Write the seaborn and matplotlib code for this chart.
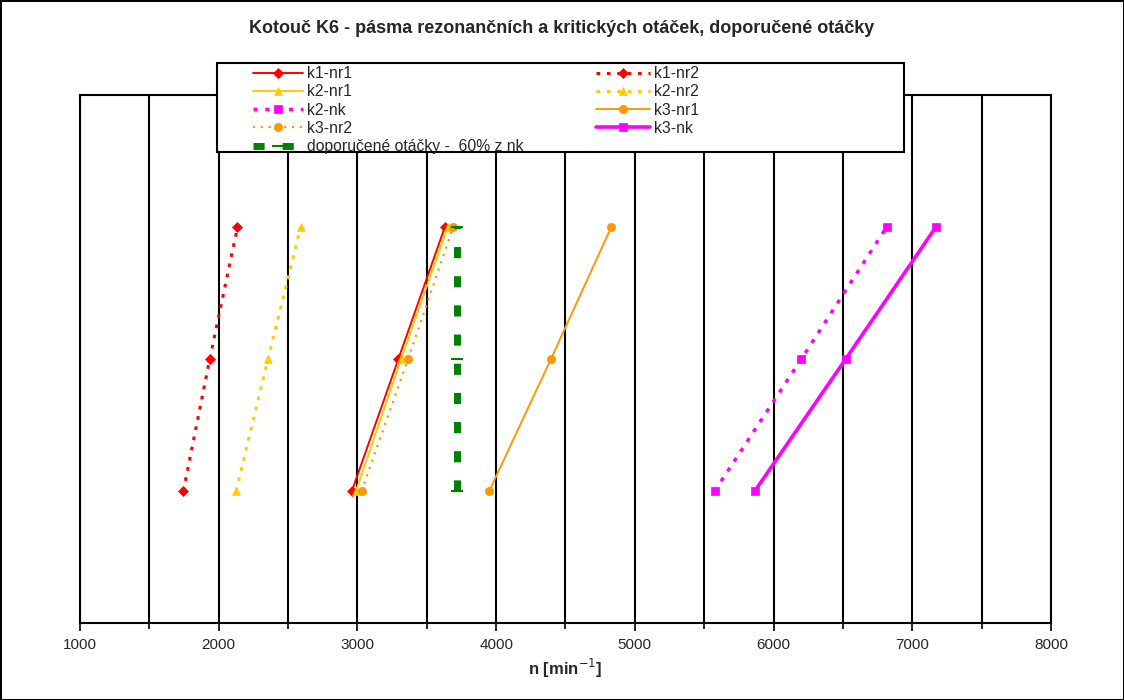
import matplotlib
matplotlib.use("Agg")
import matplotlib.pyplot as plt
import seaborn as sns
import pandas as pd
from matplotlib.patches import Rectangle
from matplotlib.ticker import MultipleLocator

# =========================
# DATA
# =========================
levels = [1, 2, 3]

k1_nr1 = [2960, 3295, 3630]
k1_nr2 = [1745, 1935, 2135]
k2_nr1 = [2990, 3315, 3650]
k2_nr2 = [2125, 2355, 2590]
k2_nk = [5575, 6200, 6815]
k3_nr1 = [3950, 4395, 4830]
k3_nr2 = [3030, 3365, 3690]
k3_nk = [5865, 6520, 7170]
doporucene = [3720, 3720, 3720]

series_names = ["k1-nr1", "k1-nr2", "k2-nr1", "k2-nr2", "k2-nk",
                "k3-nr1", "k3-nr2", "k3-nk", "doporučené otáčky -  60% z nk"]
series_values = [k1_nr1, k1_nr2, k2_nr1, k2_nr2, k2_nk,
                 k3_nr1, k3_nr2, k3_nk, doporucene]

# =========================
# STYLES
# =========================
styles = {
    "k1-nr1": dict(color="#FF0000", ls="-", marker="D", lw=1.4, ms=5),
    "k1-nr2": dict(color="#FF0000", ls=(0, (1.2, 2.2)), marker="D", lw=2.2, ms=5),
    "k2-nr1": dict(color="#FFCC00", ls="-", marker="^", lw=1.4, ms=6),
    "k2-nr2": dict(color="#FFCC00", ls=(0, (1.2, 2.2)), marker="^", lw=2.2, ms=6),
    "k2-nk": dict(color="#FF00FF", ls=(0, (1.2, 2.2)), marker="s", lw=2.5, ms=6),
    "k3-nr1": dict(color="#FF9900", ls="-", marker="o", lw=1.4, ms=6),
    "k3-nr2": dict(color="#FF9900", ls=(0, (1.0, 2.5)), marker="o", lw=1.6, ms=6),
    "k3-nk": dict(color="#FF00FF", ls="-", marker="s", lw=2.6, ms=6),
    "doporučené otáčky -  60% z nk": dict(color="#008000", ls=(0, (1.6, 2.6)),
                                          marker="_", lw=5, ms=9),
}

sns.set_theme(style="white")
plt.rcParams["font.family"] = ["Liberation Sans", "DejaVu Sans"]

fig = plt.figure(figsize=(11.24, 7.0), dpi=100, edgecolor="black", linewidth=2)
ax = fig.add_axes([0.0712, 0.11, 0.8638, 0.754])

handles = {}
for name, vals in zip(series_names, series_values):
    st = styles[name]
    df = pd.DataFrame({"n": vals, "level": levels})
    sns.lineplot(data=df, x="n", y="level", ax=ax, estimator=None, sort=False,
                 color=st["color"], linestyle=st["ls"], linewidth=st["lw"],
                 marker=st["marker"], markersize=st["ms"],
                 markeredgecolor=st["color"],
                 markeredgewidth=1.5 if st["marker"] == "_" else 0.5,
                 label=name, zorder=3)
    handles[name] = ax.get_lines()[-1]

if ax.get_legend():
    ax.get_legend().remove()

# =========================
# AXES
# =========================
ax.set_xlim(1000, 8000)
ax.set_ylim(0, 4)
ax.xaxis.set_major_locator(MultipleLocator(1000))
ax.xaxis.set_minor_locator(MultipleLocator(500))
ax.set_yticks([])
ax.set_ylabel("")
for x in range(1000, 8001, 500):
    ax.axvline(x, color="black", lw=1.5, zorder=1)
for s in ax.spines.values():
    s.set_color("black")
    s.set_linewidth(1.5)
ax.tick_params(axis="x", which="both", direction="out", bottom=True,
               color="black", width=1.2, labelsize=11, pad=5)
ax.tick_params(axis="x", which="major", length=6)
ax.tick_params(axis="x", which="minor", length=4)
ax.set_xlabel("n [min$^{-1}$]", fontsize=12, fontweight="bold", labelpad=3)

fig.suptitle("Kotouč K6 - pásma rezonančních a kritických otáček, doporučené otáčky",
             fontsize=13, fontweight="bold", y=0.972)

# =========================
# LEGEND (box + two columns)
# =========================
fig.patches.append(Rectangle((217 / 1124, 1 - 152 / 700), 687 / 1124, 89 / 700,
                             transform=fig.transFigure, facecolor="white",
                             edgecolor="black", linewidth=1.5, zorder=4))

col1 = ["k1-nr1", "k2-nr1", "k2-nk", "k3-nr2", "doporučené otáčky -  60% z nk"]
col2 = ["k1-nr2", "k2-nr2", "k3-nr1", "k3-nk"]
for cols, x0, hl in [(col1, 253 / 1124, 3.2), (col2, 596 / 1124, 3.45)]:
    leg = fig.legend([handles[n] for n in cols], cols, loc="upper left",
                     bbox_to_anchor=(x0, 1 - 66 / 700), frameon=False,
                     fontsize=11.3, borderpad=0, borderaxespad=0,
                     labelspacing=0.21, handlelength=hl, handletextpad=0.25)
    leg.set_zorder(5)

fig.savefig("out.png", dpi=100)
